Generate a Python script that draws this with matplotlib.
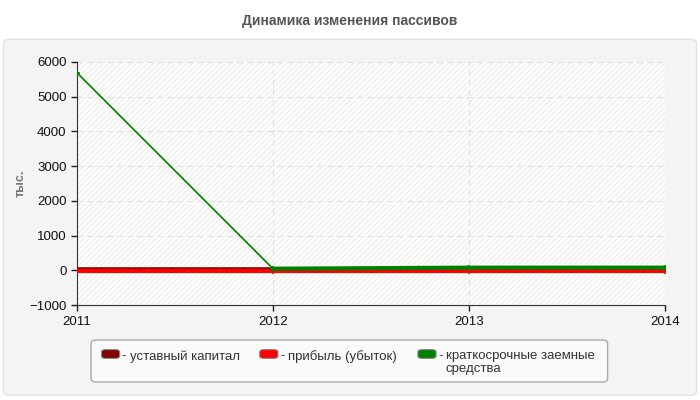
import matplotlib
matplotlib.use('Agg')
import matplotlib.pyplot as plt
from matplotlib.patches import FancyBboxPatch

plt.rcParams['font.family'] = ['Arial', 'Liberation Sans', 'DejaVu Sans']

years = [2011, 2012, 2013, 2014]
ustav = [20, 20, 20, 20]
pribyl = [-30, -30, -30, -30]
kratko = [5690, 50, 80, 80]

names = ['уставный капитал', 'прибыль (убыток)', 'краткосрочные заемные\nсредства']
colors = ['#800000', '#ff0000', '#008000']

fig = plt.figure(figsize=(7, 4), dpi=100)
fig.patch.set_facecolor('white')

# outer panel
panel = FancyBboxPatch((0.005, 0.012), 0.99, 0.89, boxstyle='round,pad=0,rounding_size=0.01',
                       transform=fig.transFigure, facecolor='#f4f4f4', edgecolor='#e2e2e2',
                       lw=1, zorder=-10)
fig.patches.append(panel)

fig.text(0.5, 0.948, 'Динамика изменения пассивов', ha='center', va='center',
         fontsize=10, fontweight='bold', color='#555555')

ax = fig.add_axes([0.11, 0.237, 0.84, 0.608])
ax.set_facecolor('#fdfdfb')
ax.fill_between([2011, 2014], -1000, 6000, facecolor='none', edgecolor='#f0f0f0',
                hatch='//////', lw=0, zorder=0)

ax.plot(years, ustav, color=colors[0], lw=4, zorder=3)
ax.plot(years, pribyl, color=colors[1], lw=3, marker='+', ms=4, mew=1.2, zorder=4)
ax.plot(years, kratko, color=colors[2], lw=1.2, marker='+', ms=4, mew=1.2, zorder=5)
ax.plot(years[1:], kratko[1:], color=colors[2], lw=3, zorder=5)

ax.set_xlim(2011, 2014)
ax.set_ylim(-1000, 6000)
ax.set_xticks(years)
ax.set_yticks(range(-1000, 6001, 1000))
ax.tick_params(labelsize=9.5, colors='#222222', length=4, width=1)
for lab in ax.get_xticklabels() + ax.get_yticklabels():
    lab.set_color('#111111')
ax.grid(True, color='#e0e0e0', ls=(0, (5, 4)), lw=0.8)
ax.spines['top'].set_visible(False)
ax.spines['right'].set_visible(False)
ax.spines['left'].set_color('#333333')
ax.spines['bottom'].set_color('#333333')
ax.set_ylabel('тыс.', color='#777777', fontsize=9, fontweight='bold')
ax.yaxis.set_label_coords(-0.085, 0.5)

# legend
lbox = FancyBboxPatch((0.130, 0.045), 0.738, 0.105, boxstyle='round,pad=0,rounding_size=0.008',
                      transform=fig.transFigure, facecolor='#fafafa', edgecolor='#aaaaaa', lw=1)
fig.patches.append(lbox)
lx = [0.145, 0.371, 0.597]
for x, c, n in zip(lx, colors, names):
    sw = FancyBboxPatch((x, 0.104), 0.026, 0.022, boxstyle='round,pad=0,rounding_size=0.006',
                        transform=fig.transFigure, facecolor=c, edgecolor='#888888', lw=0.8)
    fig.patches.append(sw)
    fig.text(x + 0.029, 0.124, '-', ha='left', va='top', fontsize=9.5, color='#333333')
    fig.text(x + 0.04, 0.124, n, ha='left', va='top', fontsize=9.5, color='#333333',
             linespacing=1.05)

fig.savefig('out.png', dpi=100, facecolor=fig.get_facecolor())
